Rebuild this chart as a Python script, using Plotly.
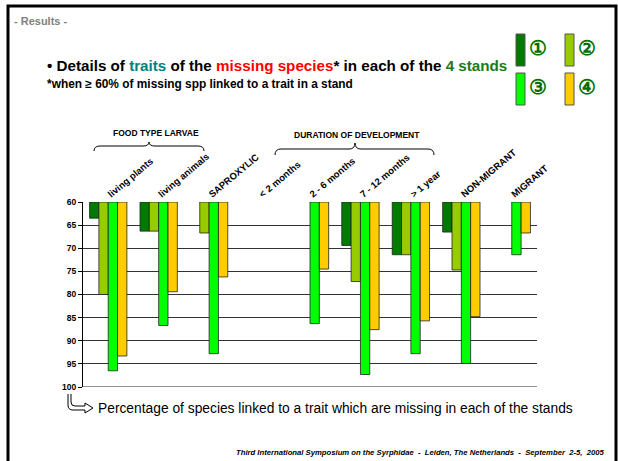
import plotly.graph_objects as go

categories = ["living plants", "living animals", "SAPROXYLIC", "< 2 months", "2 - 6 months",
              "7 - 12 months", "> 1 year", "NON-MIGRANT", "MIGRANT"]
stand1 = [63.5, 66.3, None, None, None, 69.4, 71.4, 66.5, None]
stand2 = [80.0, 66.3, 66.7, None, None, 77.2, 71.4, 74.7, None]
stand3 = [96.5, 86.7, 92.8, None, 86.3, 97.3, 92.8, 94.9, 71.4]
stand4 = [93.3, 79.4, 76.2, None, 74.5, 87.6, 85.7, 84.8, 66.7]
series = [stand1, stand2, stand3, stand4]
series_names = ["①", "②", "③", "④"]
colors = ["#007A00", "#99CC00", "#00FF00", "#FFCC00"]
base_value = 60
y_ticks = [60, 65, 70, 75, 80, 85, 90, 95, 100]

W, H = 618, 461
L, R, T, B = 83, 537, 202, 387
FONT = "Liberation Sans, Arial, sans-serif"


def px(x):
    return (x - L) / (R - L)


def py(y):
    return (B - y) / (B - T)


fig = go.Figure()
for name, vals, col in zip(series_names, series, colors):
    fig.add_trace(go.Bar(
        x=categories,
        y=[None if v is None else v - base_value for v in vals],
        base=base_value,
        name=name,
        marker=dict(color=col, line=dict(color="#222222", width=0.8)),
        showlegend=False,
    ))

shapes = []
# slide frame
shapes.append(dict(type="rect", xref="paper", yref="paper",
                   x0=px(8), x1=px(616), y0=py(475), y1=py(6),
                   line=dict(color="black", width=3), fillcolor="rgba(0,0,0,0)", layer="below"))
# bottom gridline (edge of range)
shapes.append(dict(type="line", xref="paper", yref="y", x0=0, x1=1, y0=100, y1=100,
                   line=dict(color="#222222", width=1)))


def brace(x1, xm, x2, yb, yh, yt, r=6):
    return (f"M {px(x1)},{py(yb)} Q {px(x1)},{py(yh)} {px(x1 + r)},{py(yh)} "
            f"L {px(xm - r)},{py(yh)} Q {px(xm)},{py(yh)} {px(xm)},{py(yt)} "
            f"Q {px(xm)},{py(yh)} {px(xm + r)},{py(yh)} "
            f"L {px(x2 - r)},{py(yh)} Q {px(x2)},{py(yh)} {px(x2)},{py(yb)}")


shapes.append(dict(type="path", xref="paper", yref="paper",
                   path=brace(94, 149, 204, 151, 146, 142), line=dict(color="black", width=1)))
shapes.append(dict(type="path", xref="paper", yref="paper",
                   path=brace(275, 355, 434, 155, 149, 143), line=dict(color="black", width=1)))

# legend boxes
legend_pos = [(516, 34), (565, 34), (516, 73), (565, 73)]
annotations = []
for (lx, ly), col, name in zip(legend_pos, colors, series_names):
    shapes.append(dict(type="rect", xref="paper", yref="paper",
                       x0=px(lx), x1=px(lx + 9), y0=py(ly + 32), y1=py(ly),
                       fillcolor=col, line=dict(color="#555555", width=1)))
    annotations.append(dict(x=px(lx + 11), y=py(ly + 14), xref="paper", yref="paper",
                            text=f"<b>{name}</b>", showarrow=False, xanchor="left", yanchor="middle",
                            font=dict(size=20, color="#007000", family=FONT)))

# arrow symbol at bottom-left
arrow = (f"M {px(68)},{py(394)} L {px(68)},{py(405)} Q {px(68)},{py(410)} {px(73)},{py(410)} "
         f"L {px(85)},{py(410)} L {px(85)},{py(413)} L {px(93)},{py(408)} L {px(85)},{py(403)} "
         f"L {px(85)},{py(406)} L {px(75)},{py(406)} Q {px(71)},{py(406)} {px(71)},{py(402)} "
         f"L {px(71)},{py(394)}")
shapes.append(dict(type="path", xref="paper", yref="paper", path=arrow,
                   line=dict(color="black", width=1)))

annotations += [
    dict(x=px(12), y=py(21), text="<b>- Results -</b>", xanchor="left", yanchor="middle",
         font=dict(size=11, color="#808080", family=FONT)),
    dict(x=px(45), y=py(65),
         text="<b>• Details of <span style='color:#008080'>traits</span> of the "
              "<span style='color:#FF0000'>missing species</span>* in each of the "
              "<span style='color:#1A7A1A'>4 stands</span></b>",
         xanchor="left", yanchor="middle", font=dict(size=15.2, color="black", family=FONT)),
    dict(x=px(45), y=py(84), text="<b>*when ≥ 60% of missing spp linked to a trait in a stand</b>",
         xanchor="left", yanchor="middle", font=dict(size=11.9, color="black", family=FONT)),
    dict(x=px(156), y=py(133), text="<b>FOOD TYPE LARVAE</b>", xanchor="center", yanchor="middle",
         font=dict(size=8.5, color="black", family=FONT)),
    dict(x=px(357), y=py(135), text="<b>DURATION OF DEVELOPMENT</b>", xanchor="center", yanchor="middle",
         font=dict(size=8.5, color="black", family=FONT)),
    dict(x=px(96), y=py(408), text="Percentage of species linked to a trait which are missing in each of the stands",
         xanchor="left", yanchor="middle", font=dict(size=13.8, color="black", family=FONT)),
    dict(x=px(607), y=py(452),
         text="<b><i>Third International Symposium on the Syrphidae  -  Leiden, The Netherlands  -  September  2-5,  2005</i></b>",
         xanchor="right", yanchor="middle", font=dict(size=7.7, color="black", family=FONT)),
]
for a in annotations:
    a.setdefault("xref", "paper")
    a.setdefault("yref", "paper")
    a.setdefault("showarrow", False)

fig.update_layout(
    width=W, height=H,
    margin=dict(l=L, r=W - R, t=T, b=H - B, pad=0),
    paper_bgcolor="white", plot_bgcolor="white",
    barmode="group", bargap=0.26, bargroupgap=0,
    shapes=shapes, annotations=annotations,
    font=dict(family=FONT, color="black"),
    xaxis=dict(side="top", type="category", tickangle=-40, showgrid=False, showline=False,
               ticks="", tickfont=dict(size=9.5, family=FONT, color="black", weight="bold"),
               fixedrange=True),
    yaxis=dict(range=[100, 60], autorange=False, tickvals=y_ticks, ticks="outside", ticklen=4,
               tickcolor="black", showline=True, linecolor="black", linewidth=1,
               showgrid=True, gridcolor="#333333", gridwidth=1, zeroline=False,
               tickfont=dict(size=8.5, family=FONT, color="black", weight="bold")),
)

fig.write_html("out.html", config={"displayModeBar": False},
               post_script="document.body.style.margin='0';document.body.style.overflow='hidden';")
